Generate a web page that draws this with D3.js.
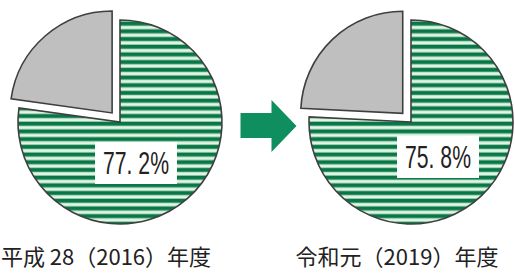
<!DOCTYPE html>
<html>
<head>
<meta charset="utf-8">
<script src="https://cdn.jsdelivr.net/npm/d3@7"></script>
<style>
  body { margin: 0; background: #fff; }
  svg { display: block; }
  .year-label { font-family: "Noto Sans CJK JP", sans-serif; font-size: 22px; fill: #222; }
  .pct-label { font-family: "Liberation Sans", Arial, sans-serif; font-size: 31px; fill: #222; }
</style>
</head>
<body>
<svg id="chart" width="515" height="277"></svg>
<script>
// data
const years = ["平成 28（2016）年度", "令和元（2019）年度"];
const mainShare = [77.2, 75.8];
const otherShare = [22.8, 24.2];

let svg = d3.select("#chart"),
    radius = 102,
    explode = 12,
    labelOffsets = [[16, 41], [27, 35]];

// pattern for the striped green slice
let defs = svg.append("defs");
let pat = defs.append("pattern")
    .attr("id", "stripes")
    .attr("patternUnits", "userSpaceOnUse")
    .attr("width", 10)
    .attr("height", 7.7);
let grad = defs.append("linearGradient")
    .attr("id", "stripeGrad")
    .attr("x1", 0).attr("y1", 0).attr("x2", 0).attr("y2", 1);
[[0, "#097548"], [0.34, "#097548"], [0.34, "#2f9664"], [0.44, "#2f9664"],
 [0.44, "#bfe2c9"], [0.68, "#bfe2c9"], [0.68, "#e3f3e7"], [0.84, "#e3f3e7"],
 [0.84, "#8ccaa2"], [1, "#8ccaa2"]].forEach(s => {
    grad.append("stop").attr("offset", s[0]).attr("stop-color", s[1]);
});
pat.append("rect")
    .attr("width", 10)
    .attr("height", 7.7)
    .attr("fill", "url(#stripeGrad)");

let xScale = d3.scalePoint()
    .domain(years)
    .range([120, 411]);

let pie = d3.pie().sort(null).value(d => d);
let arc = d3.arc().innerRadius(0).outerRadius(radius);

years.forEach((year, i) => {
    let cx = xScale(year), cy = 122;
    let slices = pie([mainShare[i], otherShare[i]]);
    let g = svg.append("g").attr("transform", "translate(" + cx + "," + cy + ")");

    g.selectAll("path")
        .data(slices)
        .enter()
        .append("path")
        .attr("d", arc)
        .attr("transform", (d, j) => {
            if (j === 0) return null;
            let mid = (d.startAngle + d.endAngle) / 2;
            return "translate(" + (Math.sin(mid) * explode) + "," + (-Math.cos(mid) * explode) + ")";
        })
        .attr("fill", (d, j) => j === 0 ? "url(#stripes)" : "#bfbfbf")
        .attr("stroke", "#3f3f3f")
        .attr("stroke-width", 1.6)
        .attr("stroke-linejoin", "miter");

    // percentage label
    let lx = labelOffsets[i][0], ly = labelOffsets[i][1];
    g.append("rect")
        .attr("x", lx - 41)
        .attr("y", ly - 21)
        .attr("width", 82)
        .attr("height", 42)
        .attr("fill", "#fff");
    g.append("text")
        .attr("class", "pct-label")
        .attr("x", lx - 33)
        .attr("y", ly + 11)
        .attr("textLength", 66)
        .attr("lengthAdjust", "spacingAndGlyphs")
        .text(mainShare[i].toFixed(1).replace(".", ". ") + "%");

    // year label
    svg.append("text")
        .attr("class", "year-label")
        .attr("x", cx - 14)
        .attr("y", 265)
        .attr("text-anchor", "middle")
        .text(year);
});

// arrow between the pies
let ax = (xScale(years[0]) + xScale(years[1])) / 2 + 3, ay = 126;
svg.append("path")
    .attr("d", d3.line()([
        [ax - 28, ay - 13], [ax + 3, ay - 13], [ax + 3, ay - 26], [ax + 28, ay],
        [ax + 3, ay + 26], [ax + 3, ay + 12], [ax - 28, ay + 12]
    ]) + "Z")
    .attr("fill", "#0f8f5f");
</script>
</body>
</html>
